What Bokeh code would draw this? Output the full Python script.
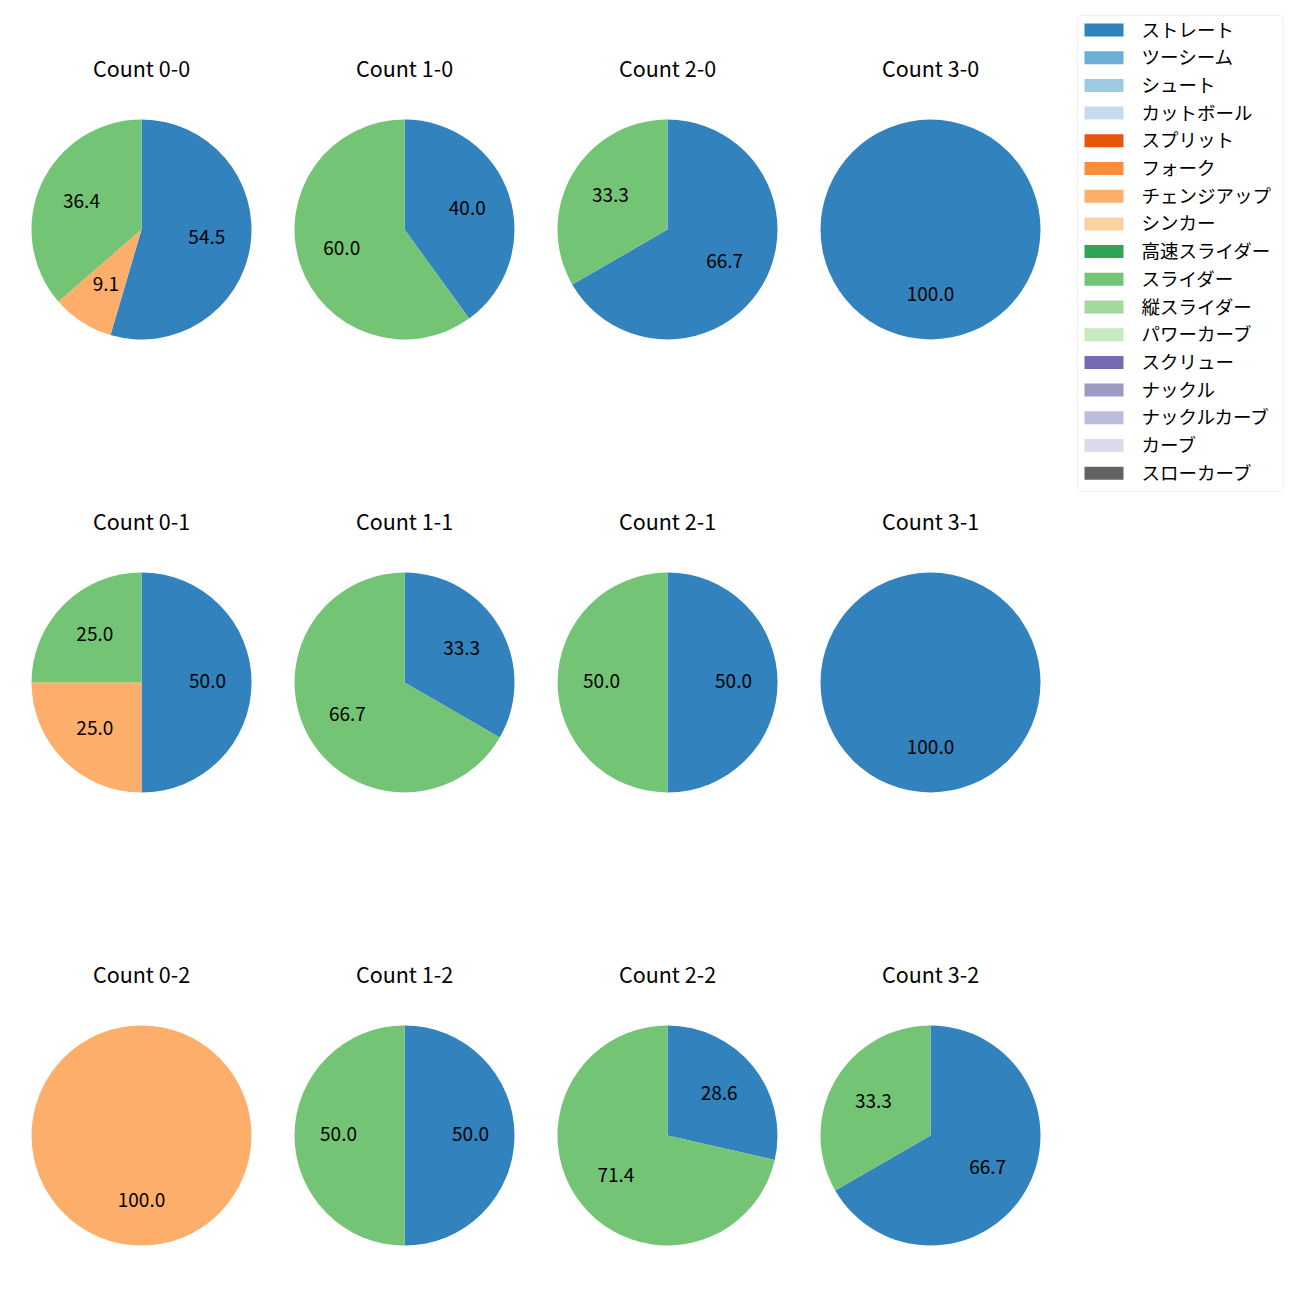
import math
from bokeh.plotting import figure
from bokeh.models import Range1d, BoxAnnotation
from bokeh.core.properties import value
from bokeh.embed import file_html
from bokeh.resources import INLINE

# ---- data ----
count_labels = ["0-0", "1-0", "2-0", "3-0",
                "0-1", "1-1", "2-1", "3-1",
                "0-2", "1-2", "2-2", "3-2"]
pitch_types = ["ストレート", "ツーシーム", "シュート", "カットボール", "スプリット", "フォーク",
               "チェンジアップ", "シンカー", "高速スライダー", "スライダー", "縦スライダー",
               "パワーカーブ", "スクリュー", "ナックル", "ナックルカーブ", "カーブ", "スローカーブ"]
pitch_colors = ["#3182bd", "#6baed6", "#9ecae1", "#c6dbef", "#e6550d", "#fd8d3c",
                "#fdae6b", "#fdd0a2", "#31a354", "#74c476", "#a1d99b", "#c7e9c0",
                "#756bb1", "#9e9ac8", "#bcbddc", "#dadaeb", "#636363"]
straight = [6, 2, 2, 1, 2, 1, 1, 1, 0, 1, 2, 2]
changeup = [1, 0, 0, 0, 1, 0, 0, 0, 1, 0, 0, 0]
slider = [4, 3, 1, 0, 1, 2, 1, 0, 0, 1, 5, 1]
series = {"ストレート": straight, "チェンジアップ": changeup, "スライダー": slider}

FONT = value("Noto Sans CJK JP")
H = 1300

p = figure(width=1284, height=1284, output_backend="svg", toolbar_location=None,
           x_range=Range1d(0, 1284), y_range=Range1d(16, 1300),
           x_axis_location=None, y_axis_location=None,
           min_border=0, outline_line_color=None, background_fill_color="white")
p.grid.visible = False

# layout
X0, DX = 141, 263
Y0, DY = 229, 453
R = 110

wx, wy, ws, we, wc = [], [], [], [], []
cx_full, cy_full, c_full = [], [], []
lx, ly, lt = [], [], []
tx, ty, tt = [], [], []

for i, lab in enumerate(count_labels):
    col, row = i % 4, i // 4
    cx = X0 + col * DX
    cy = H - (Y0 + row * DY)
    tx.append(cx); ty.append(cy + 162); tt.append("Count " + lab)
    vals = [(pt, series[pt][i]) for pt in pitch_types if pt in series and series[pt][i] > 0]
    total = sum(v for _, v in vals)
    cum = 0.0
    for pt, v in vals:
        frac = v / total
        color = pitch_colors[pitch_types.index(pt)]
        if frac > 0.9999:
            cx_full.append(cx); cy_full.append(cy); c_full.append(color)
        else:
            a0 = math.pi / 2 - 2 * math.pi * cum
            a1 = math.pi / 2 - 2 * math.pi * (cum + frac)
            wx.append(cx); wy.append(cy); ws.append(a1); we.append(a0); wc.append(color)
        mid = math.pi / 2 - 2 * math.pi * (cum + frac / 2)
        lx.append(cx + 0.6 * R * math.cos(mid))
        ly.append(cy + 0.6 * R * math.sin(mid) + 1.5)
        lt.append(f"{frac * 100:.1f}")
        cum += frac

p.wedge(x=wx, y=wy, radius=R, start_angle=ws, end_angle=we, direction="anticlock",
        fill_color=wc, line_color=None)
p.circle(x=cx_full, y=cy_full, radius=R, fill_color=c_full, line_color=None)
p.text(x=lx, y=ly, text=lt, text_align="center", text_baseline="middle",
       text_font=FONT, text_font_size="19px", text_color="black")
p.text(x=tx, y=ty, text=tt, text_align="center", text_baseline="middle",
       text_font=FONT, text_font_size="21.5px", text_color="black")

# legend
p.add_layout(BoxAnnotation(left=1077, right=1283, top=H - 15, bottom=H - 491,
                           fill_color="white", fill_alpha=1.0, line_color="#d0d0d0",
                           line_width=1, border_radius=4, level="underlay"))
ROW0, ROWH = 29.5, 27.7
gy = [H - (ROW0 + k * ROWH) for k in range(len(pitch_types))]
p.rect(x=[1103.5] * len(pitch_types), y=gy, width=39, height=13,
       fill_color=pitch_colors, line_color=None)
p.text(x=[1141] * len(pitch_types), y=[g + 1.5 for g in gy], text=pitch_types,
       text_align="left", text_baseline="middle", text_font=FONT,
       text_font_size="18.5px", text_color="black")

open("out.html", "w").write(file_html(p, INLINE))
